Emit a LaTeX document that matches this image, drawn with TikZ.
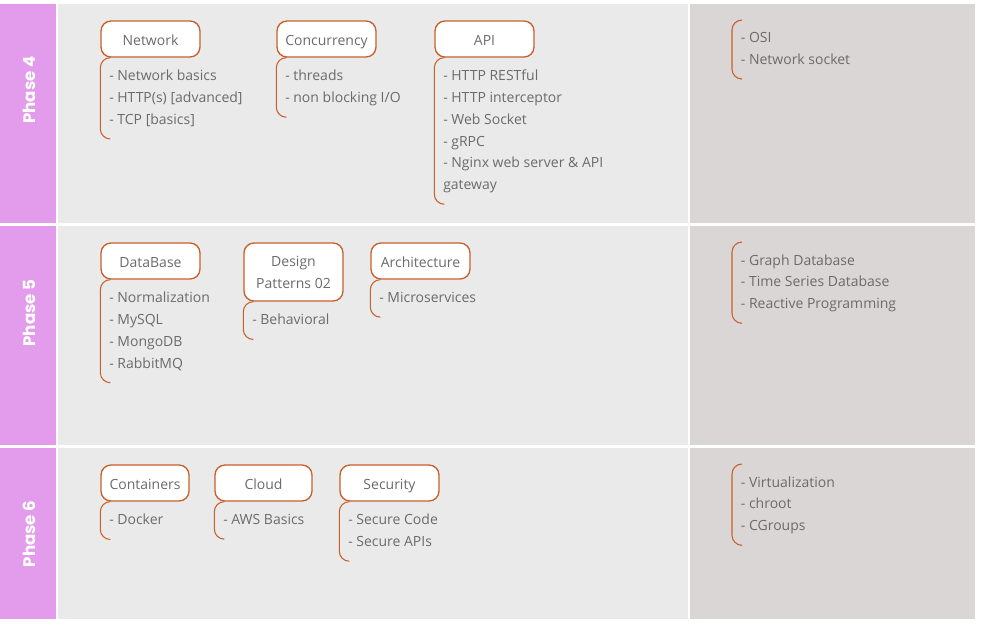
\documentclass[tikz,border=0pt]{standalone}
\usepackage{fontspec}
\setmainfont{Open Sans}
\newfontfamily\phasefont{Poppins}
\usetikzlibrary{positioning}

\definecolor{phasepink}{HTML}{E29CEB}
\definecolor{panelgray}{HTML}{EAEAEA}
\definecolor{sidegray}{HTML}{DAD6D6}
\definecolor{rust}{HTML}{C8602C}
\definecolor{txtgray}{HTML}{6B6B6B}

\tikzset{
    topicbox/.style={rectangle, draw=rust, line width=1pt, fill=white, rounded corners=7.5pt,
        minimum width=74.25pt, minimum height=27pt, align=center, text=txtgray,
        font=\fontsize{10.5}{16.5}\selectfont},
    topic/.style={topicbox, text height=11pt, text depth=2pt},
    items/.style={anchor=north west, yshift=-3.4pt, align=left, inner xsep=6.5pt, inner ysep=5.85pt,
        text=txtgray, font=\fontsize{10.5}{16.3}\selectfont,
        execute at end node={\rule[-4.9pt]{0pt}{4.9pt}}},
    bracket/.style={draw=rust, line width=0.8pt, rounded corners=7.5pt},
    phase/.style={rotate=90, text=white, font=\phasefont\bfseries\fontsize{12.5}{15}\selectfont}
}

\begin{document}
\begin{tikzpicture}[x=0.75pt, y=-0.75pt]
        \useasboundingbox (0,0) rectangle (982,626);

        % Panels
        \fill[phasepink] (0,4) rectangle (56,223);
        \fill[panelgray] (58,4) rectangle (688,223);
        \fill[sidegray] (690,4) rectangle (975,223);
        \fill[phasepink] (0,226) rectangle (56,445);
        \fill[panelgray] (58,226) rectangle (688,445);
        \fill[sidegray] (690,226) rectangle (975,445);
        \fill[phasepink] (0,448) rectangle (56,619);
        \fill[panelgray] (58,448) rectangle (688,619);
        \fill[sidegray] (690,448) rectangle (975,619);

        \node (ph4) [phase] at (29, 90) {Phase 4};
        \node (ph5) [phase] at (29, 313) {Phase 5};
        \node (ph6) [phase] at (29, 534) {Phase 6};

        % Phase 4
        \node (net) [topic] at (150.5, 39) {Network};
        \node (conc) [topic] at (326.5, 39) {Concurrency};
        \node (api) [topic] at (484.5, 39) {API};
        \node (netl) [items] at (net.south west) {- Network basics\\- HTTP(s) [advanced]\\- TCP [basics]};
        \node (concl) [items] at (conc.south west) {- threads\\- non blocking I/O};
        \node (apil) [items] at (api.south west) {- HTTP RESTful\\- HTTP interceptor\\- Web Socket\\- gRPC\\- Nginx web server \& API\\gateway};
        \node (more4) [items] at (732, 20) {- OSI\\- Network socket};

        % Phase 5
        \node (db) [topic] at (150.5, 261) {DataBase};
        \node (dp) [topicbox, minimum height=43.5pt] at (293.5, 272) {Design\\Patterns 02};
        \node (arch) [topic] at (420.5, 261) {Architecture};
        \node (dbl) [items] at (db.south west) {- Normalization\\- MySQL\\- MongoDB\\- RabbitMQ};
        \node (dpl) [items] at (dp.south west) {- Behavioral};
        \node (archl) [items] at (arch.south west) {- Microservices};
        \node (more5) [items] at (732, 242) {- Graph Database\\- Time Series Database\\- Reactive Programming};

        % Phase 6
        \node (cont) [topic, minimum width=66pt] at (145, 483) {Containers};
        \node (cloud) [topic, minimum width=72.75pt] at (263.5, 483) {Cloud};
        \node (sec) [topic] at (389.5, 483) {Security};
        \node (contl) [items] at (cont.south west) {- Docker};
        \node (cloudl) [items] at (cloud.south west) {- AWS Basics};
        \node (secl) [items] at (sec.south west) {- Secure Code\\- Secure APIs};
        \node (more6) [items] at (732, 464) {- Virtualization\\- chroot\\- CGroups};

        % Brackets
        \draw[bracket] ([xshift=7.5pt, yshift=3.4pt]netl.north west) -| (netl.south west) -- ([xshift=7.5pt]netl.south west);
        \draw[bracket] ([xshift=7.5pt, yshift=3.4pt]concl.north west) -| (concl.south west) -- ([xshift=7.5pt]concl.south west);
        \draw[bracket] ([xshift=7.5pt, yshift=3.4pt]apil.north west) -| (apil.south west) -- ([xshift=7.5pt]apil.south west);
        \draw[bracket] ([xshift=7.5pt, yshift=3.4pt]more4.north west) -| (more4.south west) -- ([xshift=7.5pt]more4.south west);
        \draw[bracket] ([xshift=7.5pt, yshift=3.4pt]dbl.north west) -| (dbl.south west) -- ([xshift=7.5pt]dbl.south west);
        \draw[bracket] ([xshift=7.5pt, yshift=3.4pt]dpl.north west) -| (dpl.south west) -- ([xshift=7.5pt]dpl.south west);
        \draw[bracket] ([xshift=7.5pt, yshift=3.4pt]archl.north west) -| (archl.south west) -- ([xshift=7.5pt]archl.south west);
        \draw[bracket] ([xshift=7.5pt, yshift=3.4pt]more5.north west) -| (more5.south west) -- ([xshift=7.5pt]more5.south west);
        \draw[bracket] ([xshift=7.5pt, yshift=3.4pt]contl.north west) -| (contl.south west) -- ([xshift=7.5pt]contl.south west);
        \draw[bracket] ([xshift=7.5pt, yshift=3.4pt]cloudl.north west) -| (cloudl.south west) -- ([xshift=7.5pt]cloudl.south west);
        \draw[bracket] ([xshift=7.5pt, yshift=3.4pt]secl.north west) -| (secl.south west) -- ([xshift=7.5pt]secl.south west);
        \draw[bracket] ([xshift=7.5pt, yshift=3.4pt]more6.north west) -| (more6.south west) -- ([xshift=7.5pt]more6.south west);

    \end{tikzpicture}
\end{document}
